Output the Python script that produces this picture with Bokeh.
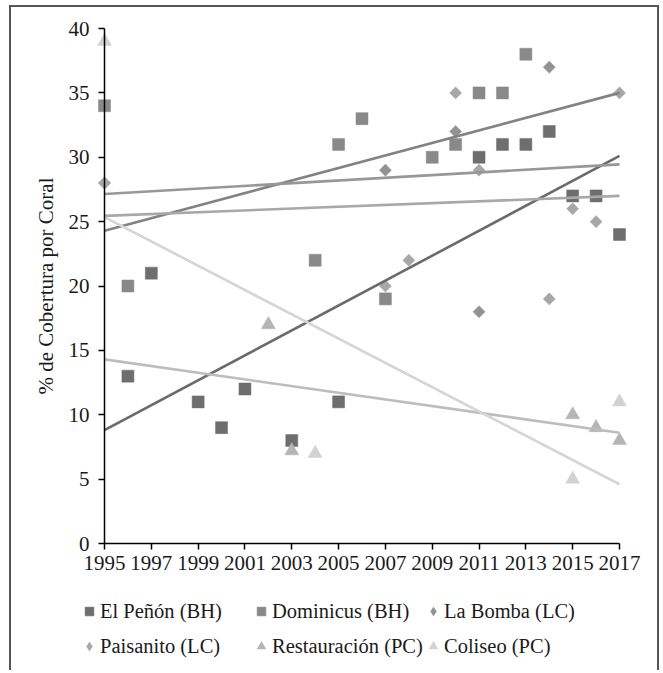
import math
from bokeh.plotting import figure
from bokeh.models import Range1d, FixedTicker, Legend, LegendItem
from bokeh.embed import file_html
from bokeh.resources import INLINE

# ---- data ----
penon_years = [1996, 1997, 1999, 2000, 2001, 2003, 2005, 2011, 2012, 2013, 2014, 2015, 2016, 2017]
penon_cover = [13, 21, 11, 9, 12, 8, 11, 30, 31, 31, 32, 27, 27, 24]

dominicus_years = [1995, 1996, 2004, 2005, 2006, 2007, 2009, 2010, 2011, 2012, 2013]
dominicus_cover = [34, 20, 22, 31, 33, 19, 30, 31, 35, 35, 38]

bomba_years = [1995, 2007, 2010, 2011, 2014]
bomba_cover = [28, 29, 32, 18, 37]

paisanito_years = [1995, 2007, 2008, 2010, 2011, 2014, 2015, 2016, 2017]
paisanito_cover = [28, 20, 22, 35, 29, 19, 26, 25, 35]

restauracion_years = [2002, 2003, 2015, 2016, 2017]
restauracion_cover = [17, 7.2, 10, 9, 8]

coliseo_years = [1995, 2004, 2015, 2017]
coliseo_cover = [39, 7, 5, 11]

# linear trend lines (value at first and last year)
trend_years = [1995, 2017]
penon_trend = [8.8, 30.1]
dominicus_trend = [24.3, 35.0]
bomba_trend = [27.15, 29.45]
paisanito_trend = [25.45, 27.0]
restauracion_trend = [14.3, 8.6]
coliseo_trend = [25.35, 4.6]

series_names = ["El Peñón (BH)", "Dominicus (BH)", "La Bomba (LC)",
                "Paisanito (LC)", "Restauración (PC)", "Coliseo (PC)"]

x_ticks = [1995, 1997, 1999, 2001, 2003, 2005, 2007, 2009, 2011, 2013, 2015, 2017]
y_ticks = [0, 5, 10, 15, 20, 25, 30, 35, 40]

y_label = "% de Cobertura por Coral"

# ---- layout (pixels) ----
W, H = 650, 665            # canvas size
AX_X = 93                  # canvas x of the y axis (first year)
AX_Y = 536                 # canvas y of the x axis (value 0)
PX_YEAR = 515 / 22         # pixels per year
PX_UNIT = 515 / 40         # pixels per % unit

x0 = x_ticks[0] - AX_X / PX_YEAR
y0 = y_ticks[0] - (H - AX_Y) / PX_UNIT

# ---- styling ----
FONT = "Liberation Serif"
TXT = "#1a1a1a"
# (years, values, trend, marker, size, angle, legend marker, marker colour, line colour)
series = [
    (penon_years, penon_cover, penon_trend, "square", 12, 0, "square", "#6e6e6e", "#6a6a6a"),
    (dominicus_years, dominicus_cover, dominicus_trend, "square", 12, 0, "square", "#898989", "#838383"),
    (bomba_years, bomba_cover, bomba_trend, "square", 8.5, math.pi / 4, "diamond", "#929292", "#979797"),
    (paisanito_years, paisanito_cover, paisanito_trend, "square", 8.5, math.pi / 4, "diamond", "#a7a7a7", "#a8a8a8"),
    (restauracion_years, restauracion_cover, restauracion_trend, "triangle", 14, 0, "triangle", "#b5b5b5", "#bdbdbd"),
    (coliseo_years, coliseo_cover, coliseo_trend, "triangle", 14, 0, "triangle", "#d2d2d2", "#d5d5d5"),
]

p = figure(width=W, height=H, output_backend="svg", toolbar_location=None,
           x_range=Range1d(x0, x0 + W / PX_YEAR), y_range=Range1d(y0, y0 + H / PX_UNIT),
           min_border_left=0, min_border_right=0, min_border_top=0,
           min_border_bottom=0)
p.styles = {"margin-left": "9px", "margin-top": "5px",
            "border-left": "2px solid #575757", "border-top": "2px solid #575757",
            "border-right": "2px solid #575757"}
p.outline_line_color = None
p.xgrid.visible = False
p.ygrid.visible = False
p.background_fill_color = "white"
p.border_fill_color = "white"

legend_renderers = []
for yrs, cov, tr, marker, size, ang, lmarker, fc, lc in series:
    r = p.scatter(yrs, cov, marker=marker, size=size, angle=ang,
                  fill_color=fc, line_color=fc, line_width=0.5)
    if lmarker != marker:
        # hidden twin used only for the diamond legend swatch
        r = p.scatter(yrs, cov, marker=lmarker, size=size,
                      fill_color=fc, line_color=fc, line_width=0.5, visible=False)
    legend_renderers.append(r)
for yrs, cov, tr, marker, size, ang, lmarker, fc, lc in series:
    p.line(trend_years, tr, line_color=lc, line_width=2.6)

# axes, placed at value 0 and at the first year
for ax in (p.xaxis[0], p.yaxis[0]):
    ax.axis_line_color = "black"
    ax.axis_line_width = 1.5
    ax.major_tick_line_color = "black"
    ax.major_tick_line_width = 1.5
    ax.major_tick_in = 0
    ax.major_tick_out = 6
    ax.minor_tick_line_color = None
    ax.major_label_text_font = FONT
    ax.major_label_text_font_size = "21px"
    ax.major_label_text_color = TXT

p.xaxis.ticker = FixedTicker(ticks=x_ticks)
p.yaxis.ticker = FixedTicker(ticks=y_ticks)
p.xaxis.bounds = (x_ticks[0], x_ticks[-1])
p.yaxis.bounds = (y_ticks[0], y_ticks[-1])
p.xaxis.fixed_location = y_ticks[0]
p.yaxis.fixed_location = x_ticks[0]
p.xaxis.major_label_standoff = 6
p.yaxis.major_label_standoff = 9

p.yaxis.axis_label = y_label
p.yaxis.axis_label_text_font = FONT
p.yaxis.axis_label_text_font_size = "21px"
p.yaxis.axis_label_text_font_style = "normal"
p.yaxis.axis_label_text_color = TXT
p.yaxis.axis_label_standoff = 8

# legend: one small legend per entry, 3 columns x 2 rows
col_x = [67, 239, 411]
row_y = [48, 13]
for i, (name, r) in enumerate(zip(series_names, legend_renderers)):
    lg = Legend(items=[LegendItem(label=name, renderers=[r])],
                location=(col_x[i % 3], row_y[i // 3]),
                orientation="vertical", padding=0, margin=0, spacing=0,
                glyph_width=22, glyph_height=26, label_standoff=-1,
                label_height=26,
                label_text_font=FONT, label_text_font_size="20.5px",
                label_text_color=TXT,
                border_line_alpha=0, background_fill_alpha=0)
    p.add_layout(lg, "center")

open("out.html", "w").write(file_html(p, INLINE))
